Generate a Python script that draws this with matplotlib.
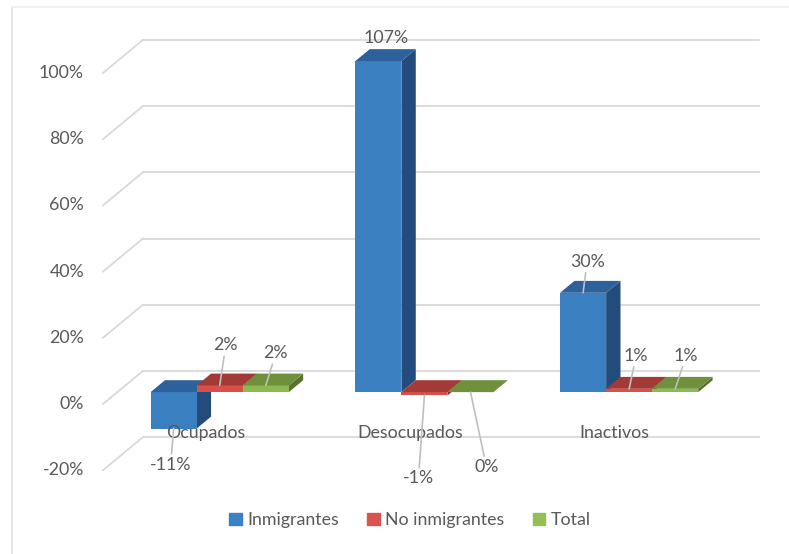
import matplotlib
matplotlib.use("Agg")
import matplotlib.pyplot as plt
from matplotlib.patches import Polygon, Patch
from matplotlib.lines import Line2D

plt.rcParams['font.family'] = ['Lato', 'DejaVu Sans']

# datos
categorias = ['Ocupados', 'Desocupados', 'Inactivos']
series = ['Inmigrantes', 'No inmigrantes', 'Total']
inmigrantes = [-0.11, 1.07, 0.30]
no_inmigrantes = [0.02, -0.01, 0.01]
total = [0.02, 0.00, 0.01]
ticks = [-0.2, 0.0, 0.2, 0.4, 0.6, 0.8, 1.0]
tick_labels = ['-20%', '0%', '20%', '40%', '60%', '80%', '100%']

valores = [inmigrantes, no_inmigrantes, total]
# (frente, arriba, lado)
colores = [('#3a80c1', '#2d619c', '#234b7c'),
           ('#d9504b', '#a33a36', '#7f2b28'),
           ('#8cb951', '#6f913c', '#56722e')]
leyenda_col = ['#3c80c8', '#d9534f', '#93bf56']
gris = '#595959'
linea = '#d9d9d9'

# desplazamiento de profundidad (efecto 3D)
DX, DY = 0.195, 0.10
W = 0.225
F0, T = 0.36, 0.36
YMIN, YMAX = -0.2, 1.0

fig = plt.figure(figsize=(7.89, 5.54), dpi=100)
ax = fig.add_axes([0, 0, 1, 1])
ax.set_xlim(-1.003, 2.851)
ax.set_ylim(-0.453, 1.2205)
ax.axis('off')

# paredes / lineas de division
for t, lab in zip(ticks, tick_labels):
    ax.plot([-0.5, -0.5 + DX], [t, t + DY], color=linea, lw=1.3, zorder=1)
    ax.plot([-0.5 + DX, 2.5 + DX + 0.01], [t + DY, t + DY], color=linea, lw=1.3, zorder=1)
    ax.text(-0.5 - 0.093, t, lab, ha='right', va='center', fontsize=12.8, color=gris)

# etiquetas de categorias
for i, c in enumerate(categorias):
    ax.text(i, -0.088, c, ha='center', va='center', fontsize=12.8, color=gris, zorder=6)

# offsets de etiquetas en pixeles (serie, categoria) y si llevan linea guia
offs = {
    (0, 0): (-3, -36, True), (1, 0): (6, 40, True), (2, 0): (10, 32, True),
    (0, 1): (8, 23, False), (1, 1): (-6, -83, True), (2, 1): (16, -75, True),
    (0, 2): (4, 31, True), (1, 2): (7, 33, True), (2, 2): (11, 33, True),
}

for i in range(len(categorias)):
    for j in range(len(series)):
        v = valores[j][i]
        vc = min(max(v, YMIN), YMAX)
        x0 = i + F0 * DX + (j - 1.5) * W
        base = F0 * DY
        top = base + max(vc, 0)
        bot = base + min(vc, 0)
        fc, tc, sc = colores[j]
        side = [(x0 + W, bot), (x0 + W, top), (x0 + W + T * DX, top + T * DY),
                (x0 + W + T * DX, bot + T * DY)]
        front = [(x0, bot), (x0 + W, bot), (x0 + W, top), (x0, top)]
        tapa = [(x0, top), (x0 + W, top), (x0 + W + T * DX, top + T * DY),
                (x0 + T * DX, top + T * DY)]
        ax.add_patch(Polygon(side, closed=True, fc=sc, ec='none', zorder=3))
        ax.add_patch(Polygon(front, closed=True, fc=fc, ec='none', zorder=3))
        ax.add_patch(Polygon(tapa, closed=True, fc=tc, ec='none', zorder=3))

        ox, oy, guia = offs[(j, i)]
        anchor = (x0 + W / 2, top if v >= 0 else bot)
        props = dict(arrowstyle='-', color='#bfbfbf', lw=1.2, shrinkA=0, shrinkB=0) if guia else None
        ax.annotate(f"{round(v * 100)}%", xy=anchor, xytext=(ox, oy),
                    textcoords='offset pixels', ha='center', va='center',
                    fontsize=12.8, color=gris, arrowprops=props, zorder=7)

handles = [Patch(color=c) for c in leyenda_col]
fig.legend(handles, series, loc='center', bbox_to_anchor=(410 / 789, 1 - 520 / 554),
           ncol=3, frameon=False, fontsize=12.8, labelcolor=gris,
           handlelength=0.7, handleheight=0.7, handletextpad=0.3, columnspacing=1.6)

# borde del grafico
fig.add_artist(Line2D([12 / 789, 12 / 789], [0, 1 - 7 / 554], color='#e3e3e3', lw=1.2))
fig.add_artist(Line2D([12 / 789, 1], [1 - 7 / 554, 1 - 7 / 554], color='#eeeeee', lw=1.2))

fig.savefig('out.png', dpi=100)
